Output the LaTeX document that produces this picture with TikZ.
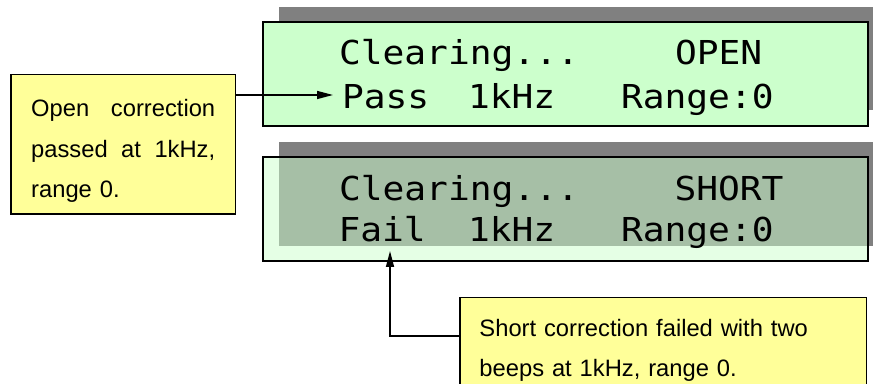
\documentclass[tikz,border=0pt]{standalone}
\usepackage{fontspec}
\setmainfont{Liberation Sans}
\newfontfamily\lcdfont[FakeStretch=1.1]{DejaVu Sans Mono}
\usetikzlibrary{arrows.meta,calc}

\tikzset{every picture/.style={line width=0.75pt}}
\tikzset{
  lcdshadow/.style={draw=none, fill={rgb, 255:red, 128; green, 128; blue, 128 }},
  lcdpanel/.style={draw=black, line width=1.1pt, fill={rgb, 255:red, 204; green, 255; blue, 204 }},
  lcdtext/.style={font=\lcdfont\fontsize{24.7}{30}\selectfont, anchor=base west, inner sep=0pt},
  notebox/.style={draw=black, line width=0.9pt, fill={rgb, 255:red, 255; green, 255; blue, 153 }, inner sep=0pt},
  notetext/.style={font=\fontsize{17.8}{30.6}\selectfont, anchor=base west, inner sep=0pt, align=left},
  pointer/.style={line width=1.1pt, -{Triangle[length=12pt,width=6pt]}}
}

\begin{document}
\begin{tikzpicture}[x=0.75pt,y=0.75pt,yscale=-1,xscale=1]
\useasboundingbox (0,0) rectangle (873,384);

%Shape: Rectangle (upper display)
\draw [lcdshadow] (279,7) rectangle (873,110);
\draw [lcdpanel] (263,22) rectangle (868,126);
%Shape: Rectangle (lower display)
\draw [lcdshadow] (279,142) rectangle (873,246);
\draw [lcdpanel, fill opacity=0.5] (263,157) rectangle (868,261);

% Text Node
\node [lcdtext] (clearA) at (338.5,64.5) {Clearing...};
\node [lcdtext] (openA) at (674.5,64.5) {OPEN};
\node [lcdtext] (passA) at (341.5,108.5) {Pass};
\node [lcdtext] (khzA) at (467.5,108.5) {1kHz};
\node [lcdtext] (rangeA) at (620.5,108.5) {Range:0};
% Text Node
\node [lcdtext] (clearB) at (338.5,200.5) {Clearing...};
\node [lcdtext] (shortB) at (674,200.5) {SHORT};
\node [lcdtext] (failB) at (338,241.5) {Fail};
\node [lcdtext] (khzB) at (467.5,241.5) {1kHz};
\node [lcdtext] (rangeB) at (620.5,241.5) {Range:0};

%Shape: Rectangle (notes)
\node [notebox, minimum width=168.5pt, minimum height=104.5pt] (openNote) at (123.35,144.35) {};
\node [notetext, text width=138pt] (openText) at ($(openNote.north west)+(20.3,42.3)$) {Open\hfill correction\\passed\hfill at\hfill 1kHz,\\range 0.};
\node [notebox, minimum width=304.9pt, minimum height=74.8pt] (shortNote) at (663.25,347.15) {};
\node [notetext, text width=270pt] (shortText) at ($(shortNote.north west)+(19.6,39.4)$) {Short correction failed with two\\beeps at 1kHz, range 0.};

%Straight Lines
\coordinate (passtip) at (333,95);
\coordinate (failtip) at (390,251);
\draw [pointer] (openNote.east |- passtip) -- (passtip);
\draw [pointer] ($(shortNote.north west)+(0,39.4)$) -| (failtip);

\end{tikzpicture}
\end{document}
